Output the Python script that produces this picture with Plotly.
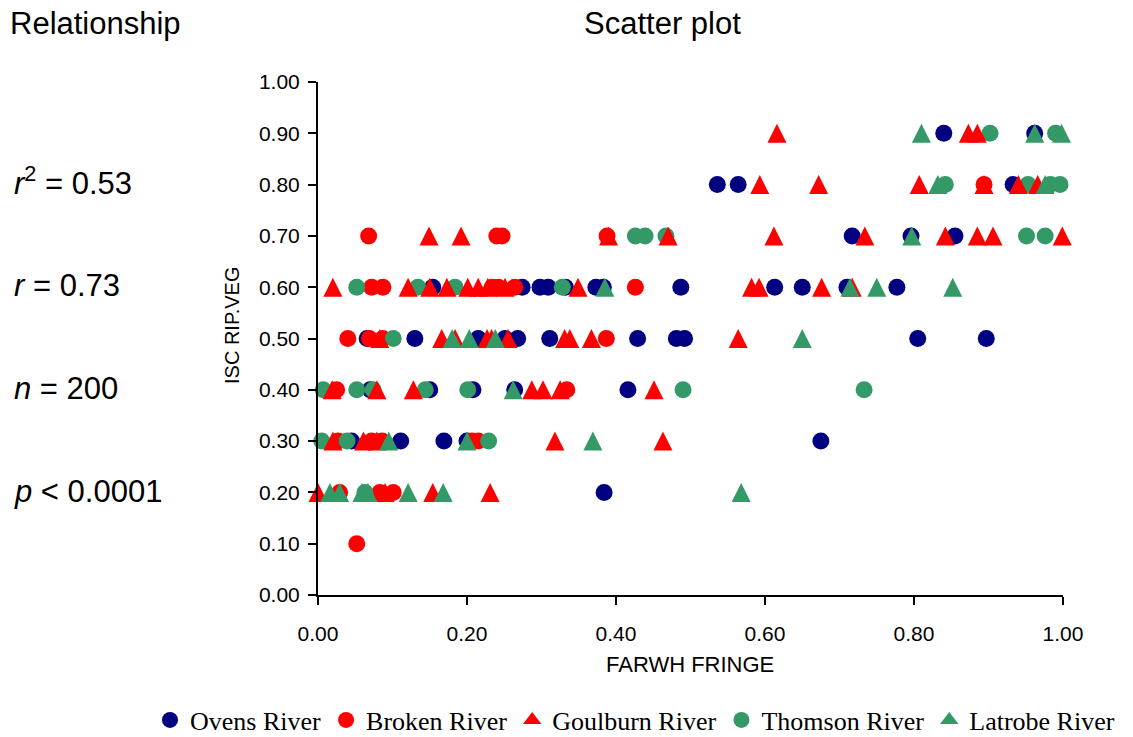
import plotly.graph_objects as go

# ---------------- data ----------------
rivers = ["Ovens River", "Broken River", "Goulburn River", "Thomson River", "Latrobe River"]

ovens_x = [0.536, 0.564, 0.933, 0.840, 0.962, 0.717, 0.796, 0.855,
           0.154, 0.274, 0.298, 0.309, 0.332, 0.373, 0.383, 0.487, 0.613, 0.650, 0.710, 0.777,
           0.066, 0.130, 0.215, 0.251, 0.268, 0.311, 0.429, 0.481, 0.492, 0.805, 0.897,
           0.070, 0.150, 0.208, 0.264, 0.416,
           0.045, 0.111, 0.169, 0.200, 0.675,
           0.384]
ovens_y = [0.8, 0.8, 0.8, 0.9, 0.9, 0.7, 0.7, 0.7,
           0.6, 0.6, 0.6, 0.6, 0.6, 0.6, 0.6, 0.6, 0.6, 0.6, 0.6, 0.6,
           0.5, 0.5, 0.5, 0.5, 0.5, 0.5, 0.5, 0.5, 0.5, 0.5, 0.5,
           0.4, 0.4, 0.4, 0.4, 0.4,
           0.3, 0.3, 0.3, 0.3, 0.3,
           0.2]

broken_x = [0.894,
            0.068, 0.240, 0.247, 0.388,
            0.072, 0.087, 0.234, 0.242, 0.264, 0.426,
            0.040, 0.069, 0.087, 0.387,
            0.025, 0.334,
            0.027, 0.072, 0.086, 0.207, 0.215,
            0.029, 0.083, 0.101,
            0.052]
broken_y = [0.8,
            0.7, 0.7, 0.7, 0.7,
            0.6, 0.6, 0.6, 0.6, 0.6, 0.6,
            0.5, 0.5, 0.5, 0.5,
            0.4, 0.4,
            0.3, 0.3, 0.3, 0.3, 0.3,
            0.2, 0.2, 0.2,
            0.1]

goulburn_x = [1.000,
              0.616, 0.873, 0.885,
              0.593, 0.672, 0.807, 0.894, 0.940, 0.966,
              0.149, 0.192, 0.390, 0.470, 0.612, 0.734, 0.842, 0.885, 0.906, 0.999,
              0.020, 0.121, 0.150, 0.173, 0.201, 0.215, 0.228, 0.251, 0.349, 0.582, 0.592, 0.676, 0.717,
              0.083, 0.166, 0.184, 0.227, 0.233, 0.255, 0.331, 0.338, 0.367, 0.564,
              0.019, 0.079, 0.128, 0.287, 0.302, 0.325, 0.451,
              0.020, 0.061, 0.079, 0.318, 0.463,
              0.000, 0.090, 0.154, 0.231]
goulburn_y = [1.0,
              0.9, 0.9, 0.9,
              0.8, 0.8, 0.8, 0.8, 0.8, 0.8,
              0.7, 0.7, 0.7, 0.7, 0.7, 0.7, 0.7, 0.7, 0.7, 0.7,
              0.6, 0.6, 0.6, 0.6, 0.6, 0.6, 0.6, 0.6, 0.6, 0.6, 0.6, 0.6, 0.6,
              0.5, 0.5, 0.5, 0.5, 0.5, 0.5, 0.5, 0.5, 0.5, 0.5,
              0.4, 0.4, 0.4, 0.4, 0.4, 0.4, 0.4,
              0.3, 0.3, 0.3, 0.3, 0.3,
              0.2, 0.2, 0.2, 0.2]

thomson_x = [0.902, 0.990,
             0.842, 0.953, 0.983, 0.996,
             0.426, 0.439, 0.467, 0.951, 0.976,
             0.052, 0.134, 0.184, 0.328,
             0.101,
             0.007, 0.052, 0.074, 0.144, 0.201, 0.490, 0.733,
             0.005, 0.039, 0.229,
             0.063]
thomson_y = [0.9, 0.9,
             0.8, 0.8, 0.8, 0.8,
             0.7, 0.7, 0.7, 0.7, 0.7,
             0.6, 0.6, 0.6, 0.6,
             0.5,
             0.4, 0.4, 0.4, 0.4, 0.4, 0.4, 0.4,
             0.3, 0.3, 0.3,
             0.2]

latrobe_x = [0.810, 0.962, 0.998,
             0.832, 0.976,
             0.797,
             0.385, 0.714, 0.750, 0.852,
             0.180, 0.203, 0.238, 0.650,
             0.262,
             0.095, 0.200, 0.369,
             0.016, 0.029, 0.059, 0.067, 0.121, 0.168, 0.568]
latrobe_y = [0.9, 0.9, 0.9,
             0.8, 0.8,
             0.7,
             0.6, 0.6, 0.6, 0.6,
             0.5, 0.5, 0.5, 0.5,
             0.4,
             0.3, 0.3, 0.3,
             0.2, 0.2, 0.2, 0.2, 0.2, 0.2, 0.2]

x_ticks = [0.0, 0.2, 0.4, 0.6, 0.8, 1.0]
y_ticks = [0.0, 0.1, 0.2, 0.3, 0.4, 0.5, 0.6, 0.7, 0.8, 0.9, 1.0]

stats_labels = ["<i>r</i><sup>2</sup> = 0.53", "<i>r</i> = 0.73", "<i>n</i> = 200", "<i>p</i> &lt; 0.0001"]

# ---------------- style ----------------
NAVY = "#000080"
RED = "#FF0000"
GREEN = "#339966"
SANS = "Liberation Sans, Arial, sans-serif"
SERIF = "Liberation Serif, Times New Roman, serif"

PLOT_H = 513.0           # plot area height in px
TRI_SIZE = 19
tri_shift = (TRI_SIZE / 2.0) / PLOT_H   # centre the arrow-shaped triangle on its row

fig = go.Figure()

series = [
    (rivers[0], ovens_x, ovens_y, NAVY, "circle"),
    (rivers[1], broken_x, broken_y, RED, "circle"),
    (rivers[2], goulburn_x, goulburn_y, RED, "triangle"),
    (rivers[3], thomson_x, thomson_y, GREEN, "circle"),
    (rivers[4], latrobe_x, latrobe_y, GREEN, "triangle"),
]

for name, xs, ys, col, kind in series:
    if kind == "circle":
        fig.add_trace(go.Scatter(
            x=xs, y=ys, mode="markers", name=name, showlegend=False,
            cliponaxis=False,
            marker=dict(symbol="circle", size=17, color=col, line=dict(width=0)),
        ))
    else:
        fig.add_trace(go.Scatter(
            x=xs, y=ys, mode="markers", name=name, showlegend=False,
            cliponaxis=False, yaxis="y2",
            marker=dict(symbol="arrow-up", size=TRI_SIZE, color=col, line=dict(width=0)),
        ))

# legend entries
for name, xs, ys, col, kind in series:
    fig.add_trace(go.Scatter(
        x=[None], y=[None], mode="markers", name=name,
        marker=dict(symbol="circle" if kind == "circle" else "triangle-up",
                    size=16, color=col, line=dict(width=0)),
    ))

axis_common = dict(
    showline=True, linecolor="black", linewidth=2,
    ticks="outside", ticklen=8, tickwidth=2, tickcolor="black",
    showgrid=False, zeroline=False, tickformat=".2f",
    tickfont=dict(family=SANS, size=21, color="black"),
)

fig.update_layout(
    width=1133, height=737,
    margin=dict(l=318, r=70, t=82, b=142, pad=0, autoexpand=False),
    paper_bgcolor="white", plot_bgcolor="white",
    xaxis=dict(range=[0, 1], tickvals=x_ticks, ticklabelstandoff=11, **axis_common),
    yaxis=dict(range=[0, 1], tickvals=y_ticks, ticklabelstandoff=4, **axis_common),
    yaxis2=dict(range=[0 - tri_shift, 1 - tri_shift], overlaying="y", visible=False),
    showlegend=True,
    legend=dict(orientation="h", xref="paper", yref="paper",
                x=(150 - 318) / 745.0, xanchor="left",
                y=(595 - 720) / 513.0, yanchor="middle",
                font=dict(family=SERIF, size=26, color="black"),
                itemwidth=30, bgcolor="rgba(0,0,0,0)"),
)

def px_x(px):
    return (px - 318) / 745.0

def px_y(py):
    return (595 - py) / 513.0

ann = []
ann.append(dict(text="Relationship", x=px_x(8), y=px_y(24), xanchor="left", yanchor="middle",
                font=dict(family=SANS, size=31, color="black")))
ann.append(dict(text="Scatter plot", x=px_x(662), y=px_y(24), xanchor="center", yanchor="middle",
                font=dict(family=SANS, size=31, color="black")))
for lbl, cy in zip(stats_labels, [181, 285, 388, 491]):
    ann.append(dict(text=lbl, x=px_x(12), y=px_y(cy), xanchor="left", yanchor="middle",
                    font=dict(family=SANS, size=31, color="black")))
ann.append(dict(text="FARWH FRINGE", x=px_x(690), y=px_y(665), xanchor="center", yanchor="middle",
                font=dict(family=SANS, size=22, color="black")))
ann.append(dict(text="ISC RIP.VEG", x=px_x(232), y=px_y(326), xanchor="center", yanchor="middle",
                textangle=-90, font=dict(family=SANS, size=20, color="black")))
for a in ann:
    a.update(xref="paper", yref="paper", showarrow=False)
fig.update_layout(annotations=ann)

fig.write_html("out.html")
